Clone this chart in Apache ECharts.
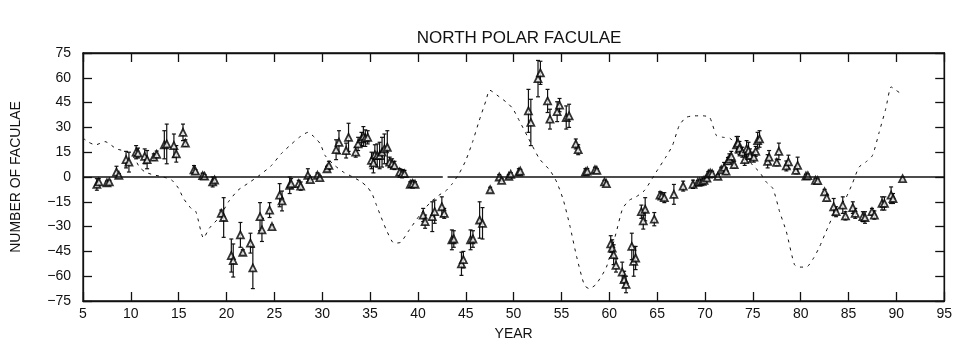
<!DOCTYPE html>
<html>
<head>
<meta charset="utf-8">
<script src="https://cdn.jsdelivr.net/npm/echarts@6/dist/echarts.min.js"></script>
<style>
html,body{margin:0;padding:0;background:#fff;}
#chart{width:955px;height:357px;}
</style>
</head>
<body>
<div id="chart"></div>
<script>
// ---- Data ----
const title = 'NORTH POLAR FACULAE';
const xName = 'YEAR';
const yName = 'NUMBER OF FACULAE';

// faculae observations: year, count, error half-width
const obsYears = [
 6.45,6.65,7.5,7.75,8.5,8.75,9.5,9.8,10.55,10.75,11.45,11.7,12.4,12.7,13.5,13.75,14.5,14.75,15.45,15.7,
 16.6,16.75,17.5,17.7,18.55,18.75,19.45,19.7,20.5,20.7,21.45,21.7,22.5,22.75,23.5,23.7,24.5,24.75,25.55,25.8,
 26.6,26.75,27.55,27.75,28.5,28.75,29.5,29.75,30.5,30.7,31.45,31.75,32.5,32.75,33.5,33.75,34.1,34.3,34.5,34.75,
 35.15,35.35,35.5,35.75,36.0,36.25,36.5,36.8,37.05,37.3,37.55,38.1,38.35,38.6,39.2,39.45,39.7,40.55,40.75,41.5,
 41.75,42.5,42.75,43.55,43.75,44.55,44.75,45.5,45.75,46.45,46.75,47.55,48.5,48.75,49.5,49.7,50.55,50.7,51.55,51.8,
 52.55,52.8,53.55,53.8,54.55,54.8,55.5,55.8,56.5,56.75,57.5,57.7,58.5,58.7,59.5,59.7,60.15,60.3,60.45,60.7,
 61.35,61.55,61.75,62.35,62.55,62.75,63.35,63.55,63.75,64.7,65.3,65.5,65.75,66.75,67.72,68.75,69.25,69.45,69.7,69.9,
 70.2,70.35,70.55,70.75,71.35,71.7,72.0,72.2,72.4,72.55,72.75,73.05,73.3,73.45,73.6,73.9,74.15,74.35,74.55,74.7,
 75.1,75.3,75.5,75.7,76.55,76.7,77.5,77.72,78.5,78.72,79.5,79.68,80.55,80.75,81.55,81.78,82.5,82.72,83.45,83.7,
 84.4,84.68,85.45,85.7,86.5,86.72,87.45,87.7,88.5,88.75,89.45,89.65,90.65
];
const obsValues = [
 -4.5,-3,-3.5,-3,3,1,10.5,9,15,14.5,12.5,10.5,12,13.7,19.5,20,19,14,27,20.5,
 4.4,3.5,0.8,0.5,-3,-1.8,-22,-24.5,-47.5,-50.5,-35,-45.5,-40,-55,-24,-32,-20,-30,-11,-14.5,
 -5,-4,-4,-5.5,1,-1.6,1,-0.4,5,7,16.5,21,16,24,15,20,23,24.5,23.5,24,
 10,8.5,13.5,13,13,15,17,18,9,8,7,3,2,2,-4.4,-4,-4.4,-23,-27,-24,
 -21,-18,-22,-38,-37.5,-52.5,-50,-38,-37.5,-26,-28,-7.7,0,-2,0.4,1.6,3,3.6,40,33,
 59.5,63,46,35,39.5,43.5,36,37,20,16.5,3,3.6,4.4,4,-3,-4,-40.5,-43,-47,-53.5,
 -57.5,-62,-65,-42,-51,-49,-21,-26.5,-19.5,-25.5,-11,-11.5,-12.5,-10.5,-5.5,-4.4,-3.2,-3,-2.6,-2,
 -0.6,1.8,2.4,2,0.4,4.4,5.8,3.5,9.8,11,12.5,7.5,19.5,20.5,17.5,15,10.5,17,16,13,
 12,15.5,22,23,9.5,12,8.8,15.5,6.7,9.2,4,7,0.6,0.8,-2,-2.2,-9,-12.5,-18,-21,
 -17,-23.5,-18.5,-22,-24,-24.5,-21,-23,-16,-16,-11,-13,-1
];
const obsErrors = [
 3.5,2,1,1,3.5,1,5,6,4,3,4.5,5.5,2,2,8.5,12,7,5,5,2,
 2.5,1,1.5,1,3,1.5,2,12,10,10,7.5,1.5,6,12.5,8.5,7,4.5,1,7,6,
 5,3,2,2.5,4,1.5,1.5,1,1.5,2.5,6,7,4.5,8.5,3,4,4,6,5,4,
 5,6,6,7,8,9,9,10,3,3,2.5,2,2.5,2,1.5,2,1.5,4,4,9,
 7,6,3,6,5,7,5,6,5,11,9.5,1.5,1.5,1,1,1,2,1,13,14,
 11,7,7,6,6,4,7,7,3,3,2,1.5,1.5,1,1,1,5,5,6,4,
 6,5,5,8,9,7,4,5,7,4,2,2,3,6,3,2.5,1,1,1,1,
 1,1.5,1.5,1.5,1,1.5,3,2,2,3,3,2,5,4,4,3,3.5,5,5,4,
 3,3,5,5,4,4,2,5,3,4,2,5,1,1,1,1,1.5,2,5,3,
 5,2.5,3.5,3,3,3.5,2,2.5,4,4,5,3,1
];

// dashed reference curve
const curveYears = [
 5,5.6,6.3,7.3,8.5,9.5,10.3,10.9,11.5,12.3,13.4,14.3,15.0,15.5,16.3,16.8,17.6,18.2,19.3,20.2,
 21.2,22.2,23.3,24.7,25.7,26.8,27.6,28.5,29.2,29.8,30.3,31.3,32.2,33.2,34.1,34.7,35.2,35.6,36.0,36.7,
 37.5,38.2,39.1,40.2,41.2,42.2,42.9,43.6,44.3,45.0,45.7,46.4,47.1,47.5,48.5,49.3,49.9,50.6,51.5,52.7,
 53.8,54.5,55.2,55.9,56.6,57.4,57.9,58.6,59.7,60.7,61.4,62.1,62.8,63.7,64.9,65.9,66.6,67.3,68.0,68.9,
 69.8,70.5,71.2,71.9,72.6,73.3,74.1,75.0,75.7,76.4,77.1,77.8,78.5,79.35,79.9,80.6,81.3,81.95,82.65,83.35,
 84.05,84.7,85.4,86.1,86.8,87.5,88.2,88.9,89.45,89.95,90.6
];
const curveValues = [
 23.5,21,19.4,21.4,17,15.5,12,6,3,1.4,0,-2,-7,-13,-19,-21,-37,-31,-24,-15,
 -8,-4,0.4,7,14,20,24,27,24,20,13,7,3,0,-3,-6,-10,-16,-22,-32,
 -40,-39.5,-32,-23,-16,-11,-8.5,-4,2,10,21,34,46,52.5,48.5,45,41.5,34,24,11,
 4,-3,-14,-30,-48.5,-65.5,-67.5,-65,-54.5,-34,-19,-14,-12,-8,3,12,19,31,36,37,
 37,36,25,24,23.5,19,14,7,3,-3,-7,-21,-33,-53,-54.5,-54.5,-49.5,-42.5,-33,-24,
 -18,-13,-4,6,9,13,27,41.5,54.5,52.5,50
];

// zero reference line segments (the reference shows a small break near year 43)
const zeroSegments = [[5, 42.6], [43.1, 95]];

const xMin = 5, xMax = 95, xStep = 5;
const yMin = -75, yMax = 75, yStep = 15;

// ---- Build options ----
const pts = obsYears.map((x, i) => [x, obsValues[i]]);
const bars = obsYears.map((x, i) => [x, obsValues[i] - obsErrors[i], obsValues[i] + obsErrors[i]]);
const curve = curveYears.map((x, i) => [x, curveValues[i]]);

const FONT = 'Liberation Sans';
const INK = '#111';
const minusFmt = v => String(v).replace('-', '\u2212');

const tickStyle = {show: true, inside: true, length: 9, lineStyle: {color: INK, width: 1.3}};
const lineStyleAx = {show: true, onZero: false, lineStyle: {color: INK, width: 1.3}};

const chart = echarts.init(document.getElementById('chart'), null, {renderer: 'canvas'});
chart.setOption({
  animation: false,
  backgroundColor: '#fff',
  title: {
    text: title,
    left: 514,
    textAlign: 'center',
    top: 25,
    textStyle: {fontFamily: FONT, fontSize: 17, fontWeight: 'normal', color: INK}
  },
  grid: {left: 83, right: 10, top: 53, bottom: 56, show: true, borderColor: INK, borderWidth: 1.3, backgroundColor: 'transparent'},
  xAxis: [{
    type: 'value', min: xMin, max: xMax, interval: xStep, position: 'bottom',
    name: xName, nameLocation: 'middle', nameGap: 26,
    nameTextStyle: {fontFamily: FONT, fontSize: 14, color: INK},
    axisLine: lineStyleAx,
    axisTick: tickStyle,
    axisLabel: {fontFamily: FONT, fontSize: 14, color: INK, margin: 6},
    splitLine: {show: false}
  }, {
    type: 'value', position: 'top', min: xMin, max: xMax, interval: xStep,
    axisLine: lineStyleAx,
    axisTick: tickStyle,
    axisLabel: {show: false}, splitLine: {show: false}
  }],
  yAxis: [{
    type: 'value', min: yMin, max: yMax, interval: yStep, position: 'left',
    name: yName, nameLocation: 'middle', nameGap: 60, nameRotate: 90,
    nameTextStyle: {fontFamily: FONT, fontSize: 14, color: INK},
    axisLine: lineStyleAx,
    axisTick: tickStyle,
    axisLabel: {fontFamily: FONT, fontSize: 14, color: INK, margin: 12, formatter: minusFmt},
    splitLine: {show: false}
  }, {
    type: 'value', position: 'right', min: yMin, max: yMax, interval: yStep,
    axisLine: lineStyleAx,
    axisTick: tickStyle,
    axisLabel: {show: false}, splitLine: {show: false}
  }],
  series: [
    {
      type: 'line', data: curve, showSymbol: false, smooth: 0.2, z: 2,
      lineStyle: {color: INK, width: 1, type: [3, 5]},
      markLine: {
        silent: true, symbol: 'none', label: {show: false},
        lineStyle: {color: INK, width: 1.6, type: 'solid'},
        data: zeroSegments.map(s => [{coord: [s[0], 0]}, {coord: [s[1], 0]}])
      }
    },
    {
      type: 'custom', data: bars, z: 3,
      encode: {x: 0, y: [1, 2]},
      renderItem: function (params, api) {
        const x = api.value(0);
        const lo = api.coord([x, api.value(1)]);
        const hi = api.coord([x, api.value(2)]);
        const w = 2;
        const st = {stroke: INK, lineWidth: 1.2};
        return {type: 'group', children: [
          {type: 'line', shape: {x1: lo[0], y1: lo[1], x2: hi[0], y2: hi[1]}, style: st},
          {type: 'line', shape: {x1: lo[0] - w, y1: lo[1], x2: lo[0] + w, y2: lo[1]}, style: st},
          {type: 'line', shape: {x1: hi[0] - w, y1: hi[1], x2: hi[0] + w, y2: hi[1]}, style: st}
        ]};
      }
    },
    {
      type: 'scatter', data: pts, z: 4,
      symbol: 'triangle', symbolSize: 7,
      itemStyle: {color: '#fff', borderColor: '#000', borderWidth: 1.8}
    }
  ]
});
</script>
</body>
</html>
